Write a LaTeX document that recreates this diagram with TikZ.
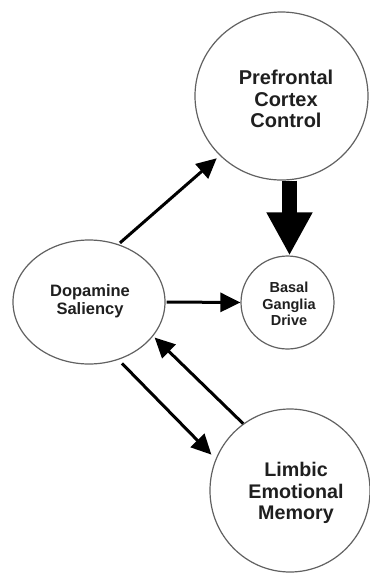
\documentclass[tikz,border=0pt]{standalone}
\usepackage{fontspec}
\setmainfont{Liberation Sans}
\usetikzlibrary{arrows.meta,shapes.geometric}
\begin{document}
\begin{tikzpicture}[x=1pt,y=-1pt,
  bubble/.style={draw=black!62, line width=1.2pt, fill=white, inner sep=0pt},
  lbl/.style={align=center, text=black!88},
  arr/.style={line width=3pt, -{Triangle[length=20pt,width=19pt]}},
  bigarr/.style={line width=15pt, -{Triangle[length=43pt,width=43pt]}}]
\useasboundingbox (0,0) rectangle (370,574);
% nodes
\node[bubble, ellipse, minimum width=173pt, minimum height=168pt] (pfc) at (281.5,96) {};
\node[lbl, font=\bfseries\fontsize{20}{21.5}\selectfont] (pfct) at (286,99) {Prefrontal\\Cortex\\Control};
\node[bubble, ellipse, minimum width=152pt, minimum height=124pt] (dop) at (89,302) {};
\node[lbl, font=\bfseries\fontsize{16.5}{18}\selectfont] (dopt) at (90,301) {Dopamine\\Saliency};
\node[bubble, circle, minimum size=93pt] (bg) at (287.5,302.5) {};
\node[lbl, font=\bfseries\fontsize{14.5}{16.5}\selectfont] (bgt) at (289,304) {Basal\\Ganglia\\Drive};
\node[bubble, ellipse, minimum width=160pt, minimum height=163pt] (lim) at (290,490.5) {};
\node[lbl, font=\bfseries\fontsize{19.7}{21.5}\selectfont] (limt) at (296,493) {Limbic\\Emotional\\Memory};
% connectors
\draw[arr, shorten <=2pt, shorten >=4pt] (dop.63) -- (pfc.224);
\draw[arr, shorten <=1pt] (dop.east) -- (bg.west);
\draw[bigarr] ([xshift=2pt]pfc.south -| bg.north) -- ([xshift=2pt]bg.north);
\draw[arr, shorten >=2pt] (lim.125) -- (dop.-28);
\draw[arr, shorten <=5pt, shorten >=6pt] (dop.-63) -- (lim.157);
\end{tikzpicture}
\end{document}
